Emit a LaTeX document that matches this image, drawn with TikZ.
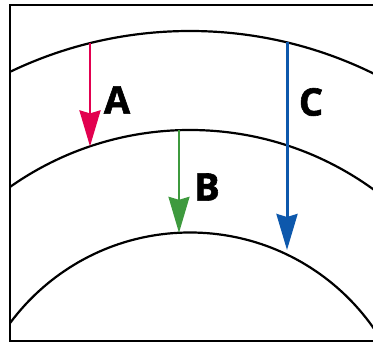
\documentclass[tikz,border=0pt]{standalone}
\usepackage{fontspec}
\newfontfamily\labelfont[BoldFeatures={FakeBold=1.6}]{Open Sans}
\usetikzlibrary{arrows.meta}
\definecolor{arrowred}{HTML}{E2004F}
\definecolor{arrowgreen}{HTML}{3E9A3E}
\definecolor{arrowblue}{HTML}{0D58AC}
\tikzset{
  layer/.style={line width=2.2pt, black},
  depth/.style={line width=2.6pt, -{Stealth[length=36pt, width=21pt, inset=3pt]}},
  letter/.style={font=\labelfont\bfseries\fontsize{38}{38}\selectfont, inner sep=0pt}
}
\begin{document}
\begin{tikzpicture}[x=1pt, y=1pt]
        \useasboundingbox (0,0) rectangle (373,343);
        % Frame
        \draw[line width=2.4pt] (380,2) -- (10,2) -- (10,338) -- (380,338);
        % Layers
        \begin{scope}
            \clip (10,2) rectangle (373,338);
            \draw[layer] (190,-104) circle (416);
            \draw[layer] (190,-99.7) circle (312.7);
            \draw[layer] (190,-113.5) circle (224);
        \end{scope}
    
        % Nodes
        \coordinate (A1) at (90,299.8);
        \coordinate (A2) at (90,196.6);
        \coordinate (B1) at (179,212.8);
        \coordinate (B2) at (179,110.2);
        \coordinate (C1) at (287,300.5);
        \coordinate (C2) at (287,93);
        \node[letter] (A) at (117,243) {A};
        \node[letter] (B) at (207,156) {B};
        \node[letter] (C) at (311,241) {C};
    
        % Edges
        \draw[depth, arrowred] (A1) -- (A2);
        \draw[depth, arrowgreen, line width=2pt] (B1) -- (B2);
        \draw[depth, arrowblue, line width=3pt] (C1) -- (C2);
    \end{tikzpicture}
\end{document}
